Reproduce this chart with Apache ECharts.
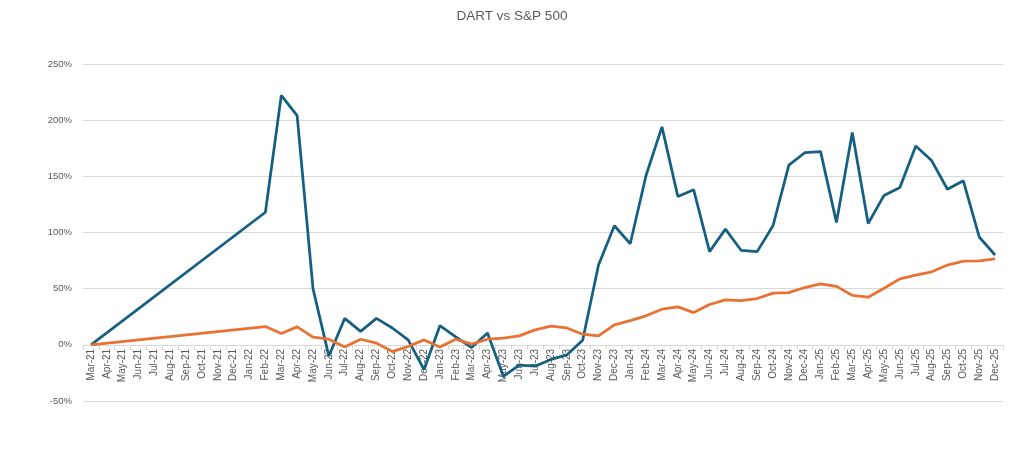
<!DOCTYPE html>
<html>
<head>
<meta charset="utf-8">
<script src="https://cdn.jsdelivr.net/npm/echarts@6/dist/echarts.min.js"></script>
<style>
html,body{margin:0;padding:0;background:#fff;}
#chart{width:1024px;height:466px;}
</style>
</head>
<body>
<div id="chart"></div>
<script>
const months = ["Mar-21","Apr-21","May-21","Jun-21","Jul-21","Aug-21","Sep-21","Oct-21","Nov-21","Dec-21","Jan-22","Feb-22","Mar-22","Apr-22","May-22","Jun-22","Jul-22","Aug-22","Sep-22","Oct-22","Nov-22","Dec-22","Jan-23","Feb-23","Mar-23","Apr-23","May-23","Jun-23","Jul-23","Aug-23","Sep-23","Oct-23","Nov-23","Dec-23","Jan-24","Feb-24","Mar-24","Apr-24","May-24","Jun-24","Jul-24","Aug-24","Sep-24","Oct-24","Nov-24","Dec-24","Jan-25","Feb-25","Mar-25","Apr-25","May-25","Jun-25","Jul-25","Aug-25","Sep-25","Oct-25","Nov-25","Dec-25"];

const dart = [0,null,null,null,null,null,null,null,null,null,null,118,
  222,204,50,-10,23.5,12,23.5,15,4.5,-22,17,7,-2.4,10.5,-28,-18,-19,-13,-9,4,
  71,106,90,151,194,132,138,83,103,84,83,106,160,171,172,109,189,108,133,140,177,164,138.5,146,96,80];

const sp500 = [0,null,null,null,null,null,null,null,null,null,null,16.3,
  10,16,6.8,5,-2,5,1.5,-6,-1.5,4.4,-2,5,0.6,5,6,8,13.3,16.6,15,9.5,
  8,17.8,21.6,25.8,31.7,33.8,28.7,35.9,40,39.4,41.2,46,46.5,51,54.3,52,44,42.4,50.4,58.7,62,65,71,74.5,74.7,76.5];

const yTicks = {min:-50, max:250, interval:50};

const gridTop = 64, gridBottom = 65, chartH = 466;
const plotH = chartH - gridTop - gridBottom;
const zeroOffset = plotH * (0 - yTicks.min) / (yTicks.max - yTicks.min);

const chart = echarts.init(document.getElementById('chart'), null, {renderer:'canvas'});
chart.setOption({
  animation:false,
  backgroundColor:'#ffffff',
  title:{
    text:'DART vs S&P 500',
    left:'center',
    top:4,
    textStyle:{color:'#595959',fontSize:13.5,fontWeight:'normal',fontFamily:'Liberation Sans, Arial, sans-serif'}
  },
  grid:{left:83,right:21,top:gridTop,bottom:gridBottom,containLabel:false},
  xAxis:{
    type:'category',
    data:months,
    boundaryGap:true,
    offset:-zeroOffset,
    axisLine:{onZero:false,lineStyle:{color:'#D9D9D9',width:1}},
    axisTick:{show:true,alignWithLabel:false,interval:0,length:5,lineStyle:{color:'#D9D9D9'}},
    axisLabel:{interval:0,rotate:90,fontSize:10,color:'#595959',margin:4,fontFamily:'Liberation Sans, Arial, sans-serif'},
    splitLine:{show:false}
  },
  yAxis:{
    type:'value',
    min:yTicks.min,max:yTicks.max,interval:yTicks.interval,
    axisLine:{show:false},
    axisTick:{show:false},
    axisLabel:{formatter:v=>v+'%',fontSize:9.5,color:'#595959',margin:11,fontFamily:'Liberation Sans, Arial, sans-serif'},
    splitLine:{lineStyle:{color:'#D9D9D9',width:1}}
  },
  series:[
    {name:'DART',type:'line',data:dart,connectNulls:true,symbol:'none',
     lineStyle:{color:'#156082',width:2.75},itemStyle:{color:'#156082'}},
    {name:'S&P 500',type:'line',data:sp500,connectNulls:true,symbol:'none',
     lineStyle:{color:'#E97132',width:2.75},itemStyle:{color:'#E97132'}}
  ]
});
</script>
</body>
</html>
